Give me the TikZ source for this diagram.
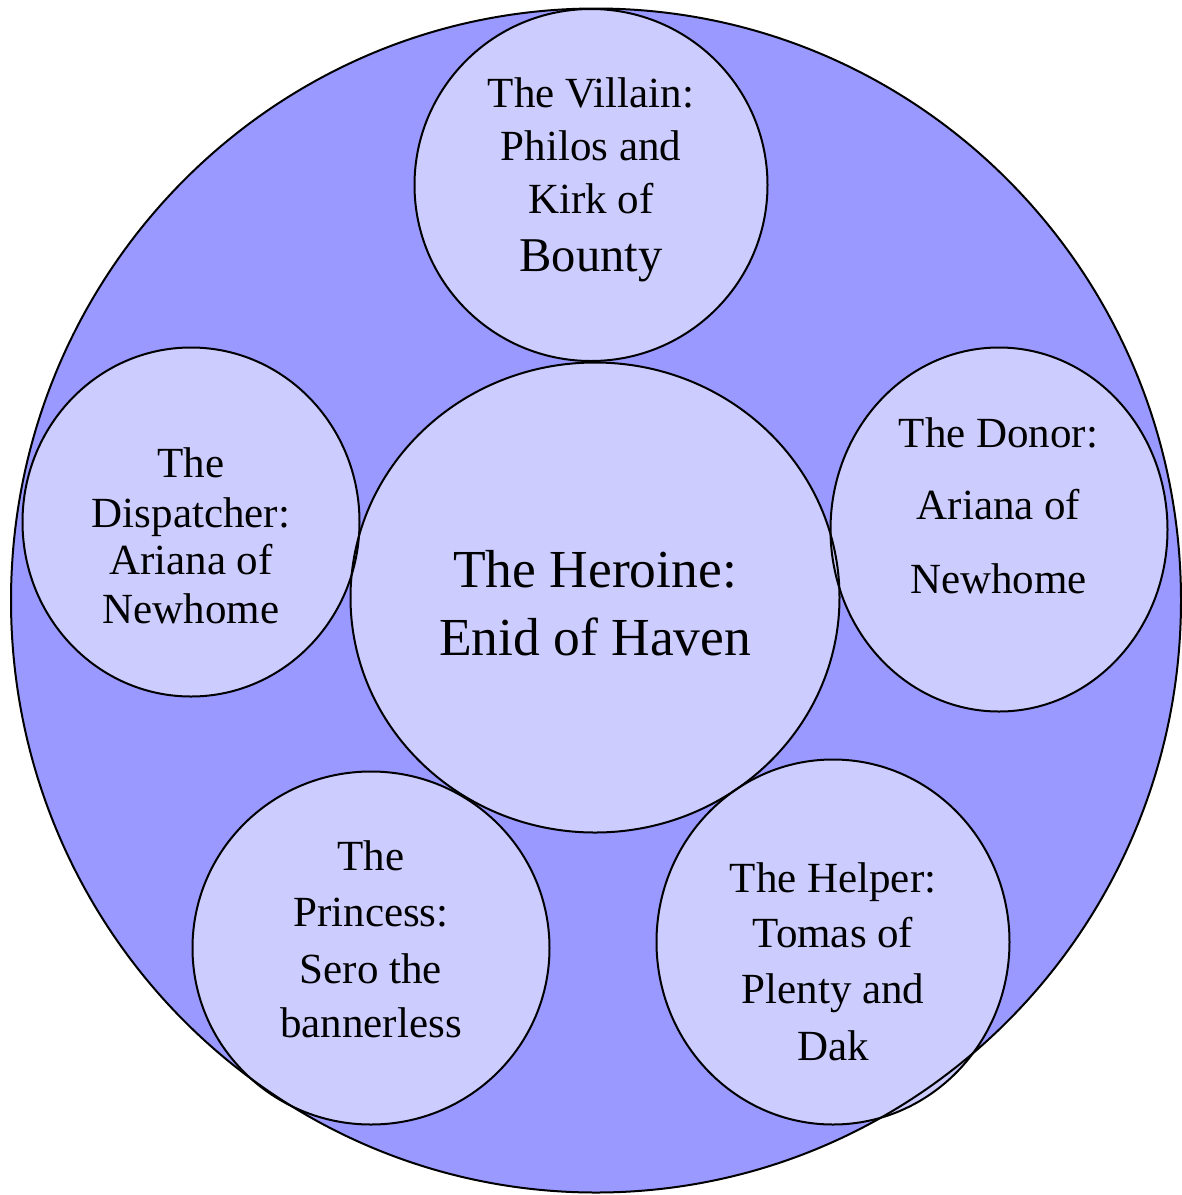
\documentclass[tikz,border=0pt]{standalone}
\usepackage{fontspec}
\setmainfont{Liberation Serif}
\usetikzlibrary{shapes.geometric}
\definecolor{outerblue}{HTML}{9999FF}
\definecolor{innerblue}{HTML}{CCCCFF}
\tikzset{
  blob/.style={ellipse, inner sep=0pt, outer sep=0pt, fill=innerblue},
  rim/.style={draw=black, line width=2pt},
  txt/.style={anchor=base, inner sep=0pt, font=\fontsize{43}{50}\selectfont},
  bigtxt/.style={anchor=base, inner sep=0pt, font=\fontsize{48.5}{56}\selectfont},
  herotxt/.style={anchor=base, inner sep=0pt, font=\fontsize{53.5}{62}\selectfont}
}
\begin{document}
\begin{tikzpicture}[x=1pt,y=-1pt]
\useasboundingbox (0,0) rectangle (1182,1195);
% outer circle
\node[ellipse, inner sep=0pt, fill=outerblue, minimum width=1170pt, minimum height=1184pt] (outer) at (596,600.5) {};
% fills
\node[blob, minimum width=353pt, minimum height=352pt] (villain) at (591,185) {};
\node[blob, minimum width=489pt, minimum height=470pt] (heroine) at (595,597.5) {};
\node[blob, minimum width=337pt, minimum height=349pt] (dispatcher) at (191,522) {};
\node[blob, minimum width=337pt, minimum height=364pt] (donor) at (999,529.5) {};
\node[blob, minimum width=357pt, minimum height=353pt] (princess) at (371,948) {};
\node[blob, minimum width=353pt, minimum height=365pt] (helper) at (833,942) {};
% outlines
\draw[rim] (outer.center) ellipse [x radius=585pt, y radius=592pt];
\draw[rim] (villain.center) ellipse [x radius=176.5pt, y radius=176pt];
\draw[rim] (heroine.center) ellipse [x radius=244.5pt, y radius=235pt];
\draw[rim] (dispatcher.center) ellipse [x radius=168.5pt, y radius=174.5pt];
\draw[rim] (donor.center) ellipse [x radius=168.5pt, y radius=182pt];
\draw[rim] (princess.center) ellipse [x radius=178.5pt, y radius=176.5pt];
\draw[rim] (helper.center) ellipse [x radius=176.5pt, y radius=182.5pt];
% villain text
\node[txt] (v1) at (591,107) {The Villain:};
\node[txt] (v2) at (591,160) {Philos and};
\node[txt] (v3) at (591,213) {Kirk of};
\node[bigtxt] (v4) at (591,271) {Bounty};
% heroine text
\node[herotxt] (h1) at (595,587) {The Heroine:};
\node[herotxt] (h2) at (595,655) {Enid of Haven};
% dispatcher text
\node[txt] (d1) at (191,477) {The};
\node[txt] (d2) at (191,527) {Dispatcher:};
\node[txt] (d3) at (191,574) {Ariana of};
\node[txt] (d4) at (191,623) {Newhome};
% donor text
\node[txt] (n1) at (998.5,447) {The Donor:};
\node[txt] (n2) at (998.5,519) {Ariana of};
\node[txt] (n3) at (998.5,593) {Newhome};
% princess text
\node[txt] (p1) at (371,870) {The};
\node[txt] (p2) at (371,926) {Princess:};
\node[txt] (p3) at (371,983) {Sero the};
\node[txt] (p4) at (371,1037) {bannerless};
% helper text
\node[txt] (e1) at (833,892) {The Helper:};
\node[txt] (e2) at (833,947) {Tomas of};
\node[txt] (e3) at (833,1003) {Plenty and};
\node[txt] (e4) at (833,1060) {Dak};
\end{tikzpicture}
\end{document}
